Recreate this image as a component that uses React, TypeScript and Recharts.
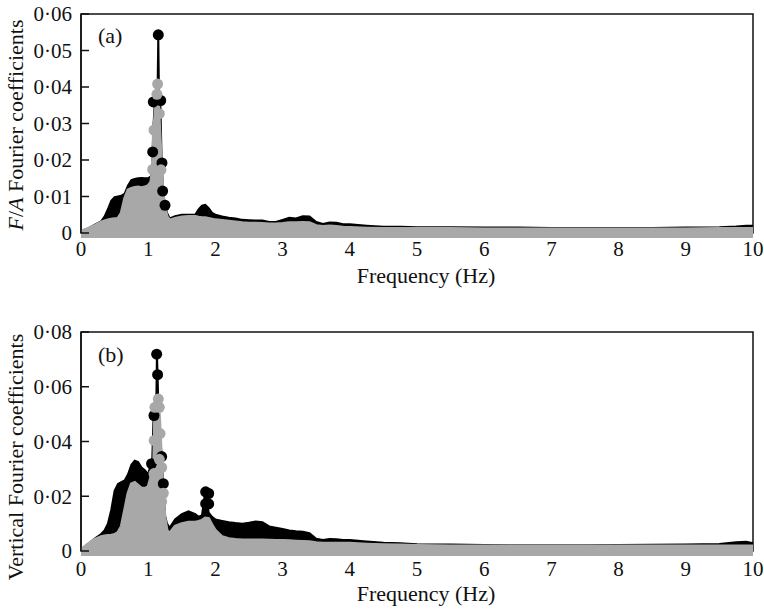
import React from 'react'
import { ComposedChart, Area, Scatter, XAxis, YAxis, ReferenceArea } from 'recharts'

const FONT = '"Liberation Serif", "Times New Roman", serif'
const INK = '#111'
const GREY = '#a8a8a8'

// frequency grid (Hz), denser around the 1.1 Hz peak
const freq = [
  0, 0.1, 0.2, 0.3, 0.35, 0.4, 0.45, 0.5, 0.55, 0.6,
  0.65, 0.7, 0.75, 0.8, 0.85, 0.9, 0.95, 1.0, 1.04, 1.06,
  1.08, 1.1, 1.12, 1.13, 1.14, 1.15, 1.16, 1.18, 1.2, 1.22,
  1.25, 1.28, 1.32, 1.4, 1.5, 1.6, 1.7, 1.75, 1.8, 1.85,
  1.9, 1.95, 2.0, 2.1, 2.2, 2.3, 2.4, 2.5, 2.6, 2.7,
  2.8, 2.9, 3.0, 3.1, 3.2, 3.3, 3.4, 3.5, 3.6, 3.7,
  3.8, 3.9, 4.0, 4.25, 4.5, 4.75, 5.0, 5.5, 6.0, 6.5,
  7.0, 7.5, 8.0, 8.5, 9.0, 9.5, 9.75, 9.9, 10.0,
]

// (a) F/A coefficients, upper envelope
const faBlack = [
  0.0005, 0.0012, 0.0022, 0.0032, 0.0045, 0.0065, 0.0088, 0.0098, 0.0100, 0.0102,
  0.0108, 0.0130, 0.0145, 0.0148, 0.0150, 0.0151, 0.0150, 0.0150, 0.0155, 0.0190,
  0.0300, 0.0360, 0.0380, 0.0390, 0.0400, 0.0543, 0.0390, 0.0360, 0.0200, 0.0115,
  0.0078, 0.0055, 0.0040, 0.0046, 0.0050, 0.0050, 0.0050, 0.0065, 0.0075, 0.0077,
  0.0068, 0.0055, 0.0050, 0.0045, 0.0042, 0.0040, 0.0036, 0.0035, 0.0034, 0.0034,
  0.0030, 0.0030, 0.0036, 0.0042, 0.0040, 0.0046, 0.0045, 0.0030, 0.0025, 0.0029,
  0.0028, 0.0024, 0.0024, 0.0020, 0.0017, 0.0017, 0.0016, 0.0016, 0.0015, 0.0015,
  0.0014, 0.0014, 0.0014, 0.0014, 0.0015, 0.0016, 0.0018, 0.0020, 0.0020,
]
const faGray = [
  0.0005, 0.0012, 0.0020, 0.0030, 0.0033, 0.0036, 0.0038, 0.0039, 0.0040, 0.0055,
  0.0095, 0.0118, 0.0122, 0.0125, 0.0126, 0.0124, 0.0126, 0.0130, 0.0140, 0.0170,
  0.0280, 0.0320, 0.0360, 0.0380, 0.0408, 0.0390, 0.0327, 0.0250, 0.0170, 0.0110,
  0.0070, 0.0045, 0.0035, 0.0040, 0.0044, 0.0045, 0.0045, 0.0043, 0.0042, 0.0042,
  0.0040, 0.0038, 0.0036, 0.0034, 0.0032, 0.0030, 0.0028, 0.0027, 0.0027, 0.0026,
  0.0025, 0.0025, 0.0026, 0.0028, 0.0028, 0.0029, 0.0028, 0.0020, 0.0018, 0.0019,
  0.0018, 0.0016, 0.0015, 0.0013, 0.0012, 0.0012, 0.0012, 0.0012, 0.0011, 0.0011,
  0.0011, 0.0011, 0.0011, 0.0011, 0.0011, 0.0012, 0.0012, 0.0012, 0.0012,
]

// (b) vertical coefficients, upper envelope
const vBlack = [
  0.0005, 0.0025, 0.0045, 0.0062, 0.0075, 0.0100, 0.0150, 0.0220, 0.0245, 0.0252,
  0.0258, 0.0280, 0.0315, 0.0330, 0.0325, 0.0305, 0.0295, 0.0280, 0.0320, 0.0330,
  0.0495, 0.0520, 0.0540, 0.0720, 0.0644, 0.0540, 0.0500, 0.0420, 0.0345, 0.0250,
  0.0130, 0.0100, 0.0085, 0.0115, 0.0135, 0.0145, 0.0135, 0.0125, 0.0130, 0.0220,
  0.0140, 0.0125, 0.0115, 0.0110, 0.0105, 0.0102, 0.0100, 0.0103, 0.0108, 0.0105,
  0.0090, 0.0085, 0.0080, 0.0075, 0.0072, 0.0070, 0.0065, 0.0045, 0.0040, 0.0044,
  0.0043, 0.0040, 0.0040, 0.0035, 0.0030, 0.0028, 0.0025, 0.0024, 0.0022, 0.0021,
  0.0021, 0.0021, 0.0022, 0.0023, 0.0024, 0.0026, 0.0032, 0.0034, 0.0028,
]
const vGray = [
  0.0005, 0.0025, 0.0042, 0.0052, 0.0055, 0.0057, 0.0058, 0.0060, 0.0068, 0.0090,
  0.0150, 0.0210, 0.0245, 0.0250, 0.0240, 0.0230, 0.0228, 0.0235, 0.0270, 0.0290,
  0.0283, 0.0525, 0.0540, 0.0550, 0.0555, 0.0555, 0.0525, 0.0430, 0.0305, 0.0211,
  0.0120, 0.0075, 0.0065, 0.0090, 0.0100, 0.0105, 0.0105, 0.0108, 0.0112, 0.0120,
  0.0118, 0.0095, 0.0075, 0.0052, 0.0045, 0.0042, 0.0040, 0.0040, 0.0040, 0.0040,
  0.0039, 0.0038, 0.0038, 0.0037, 0.0036, 0.0035, 0.0034, 0.0030, 0.0028, 0.0028,
  0.0028, 0.0028, 0.0028, 0.0025, 0.0023, 0.0022, 0.0020, 0.0018, 0.0018, 0.0018,
  0.0018, 0.0018, 0.0018, 0.0018, 0.0018, 0.0018, 0.0018, 0.0018, 0.0018,
]

// isolated points standing out around the peaks
const faBlackDots = [
  { f: 1.067, v: 0.0222 }, { f: 1.076, v: 0.0359 }, { f: 1.15, v: 0.0543 },
  { f: 1.186, v: 0.0363 }, { f: 1.205, v: 0.0192 }, { f: 1.215, v: 0.0115 }, { f: 1.25, v: 0.0076 },
]
const faGrayDots = [
  { f: 1.067, v: 0.0174 }, { f: 1.086, v: 0.0282 }, { f: 1.13, v: 0.038 },
  { f: 1.14, v: 0.0408 }, { f: 1.165, v: 0.0327 }, { f: 1.19, v: 0.0173 },
]
const vBlackDots = [
  { f: 1.05, v: 0.0319 }, { f: 1.086, v: 0.0495 }, { f: 1.126, v: 0.0719 }, { f: 1.14, v: 0.0644 },
  { f: 1.2, v: 0.0345 }, { f: 1.225, v: 0.0246 }, { f: 1.855, v: 0.0216 }, { f: 1.9, v: 0.021 },
  { f: 1.855, v: 0.0173 }, { f: 1.9, v: 0.0172 },
]
const vGrayDots = [
  { f: 1.086, v: 0.0283 }, { f: 1.09, v: 0.0404 }, { f: 1.1, v: 0.0525 }, { f: 1.15, v: 0.0555 },
  { f: 1.165, v: 0.0525 }, { f: 1.176, v: 0.0429 }, { f: 1.165, v: 0.0335 }, { f: 1.2, v: 0.0305 },
  { f: 1.225, v: 0.0211 }, { f: 1.2, v: 0.018 },
]

const xTicks = [0, 1, 2, 3, 4, 5, 6, 7, 8, 9, 10]
const faTicks = [0, 0.01, 0.02, 0.03, 0.04, 0.05, 0.06]
const vTicks = [0, 0.02, 0.04, 0.06, 0.08]

const fmtY = (v: number) => (v === 0 ? '0' : v.toFixed(2).replace('.', '·'))

const tickStyle = { fill: INK, fontSize: 21, fontFamily: FONT }
const titleStyle = { fill: INK, fontSize: 22, fontFamily: FONT }

function dot(color: string) {
  return (p: any) => <circle cx={p.cx} cy={p.cy} r={5.5} fill={color} />
}

interface PanelProps {
  black: number[]
  gray: number[]
  blackDots: { f: number; v: number }[]
  grayDots: { f: number; v: number }[]
  yMax: number
  yTicks: number[]
  height: number
  top: number
  floor: number
  tickGap: number
  xTitleY: number
  yTitleY: number
  yTitle: React.ReactNode
}

function Panel(p: PanelProps) {
  const rows = freq.map((f, i) => ({ f, black: p.black[i], gray: p.gray[i] }))
  return (
    <ComposedChart
      width={764}
      height={p.height}
      data={rows}
      margin={{ top: p.top, right: 11, left: 0, bottom: 0 }}
    >
      <ReferenceArea x1={0} x2={10} y1={0} y2={p.yMax} fill="none" stroke={INK} strokeWidth={1.5} />
      <XAxis
        type="number"
        dataKey="f"
        domain={[0, 10]}
        ticks={xTicks}
        interval={0}
        height={p.height - p.top - 222 + 3}
        axisLine={false}
        tickLine={false}
        tickMargin={p.tickGap}
        tick={tickStyle}
        label={{
          content: () => (
            <text x={426} y={p.xTitleY} textAnchor="middle" {...titleStyle}>
              Frequency (Hz)
            </text>
          ),
        }}
      />
      <YAxis
        type="number"
        domain={[0, p.yMax]}
        ticks={p.yTicks}
        interval={0}
        width={81}
        tickSize={-8}
        tickMargin={17}
        tickFormatter={fmtY}
        stroke={INK}
        strokeWidth={1.5}
        tick={tickStyle}
        label={{
          content: () => (
            <text transform="rotate(-90)" x={-p.yTitleY} y={23} textAnchor="middle" {...titleStyle}>
              {p.yTitle}
            </text>
          ),
        }}
      />
      <Area
        type="linear"
        dataKey="black"
        stroke="#000"
        strokeWidth={2}
        fill="#000"
        fillOpacity={1}
        isAnimationActive={false}
      />
      <Scatter data={p.blackDots} dataKey="v" shape={dot('#000')} isAnimationActive={false} />
      <Area
        type="linear"
        dataKey="gray"
        baseValue={p.floor}
        stroke={GREY}
        strokeWidth={3}
        fill={GREY}
        fillOpacity={1}
        isAnimationActive={false}
      />
      <Scatter data={p.grayDots} dataKey="v" shape={dot(GREY)} isAnimationActive={false} />
    </ComposedChart>
  )
}

export default function App() {
  const letter: React.CSSProperties = {
    position: 'absolute',
    left: 98,
    fontFamily: FONT,
    fontSize: 22,
    lineHeight: '22px',
    color: INK,
  }
  return (
    <div style={{ position: 'absolute', left: 0, top: 0, width: 764, height: 612, background: '#fff' }}>
      <div style={{ position: 'absolute', left: 0, top: 0 }}>
        <Panel
          black={faBlack}
          gray={faGray}
          blackDots={faBlackDots}
          grayDots={faGrayDots}
          yMax={0.06}
          yTicks={faTicks}
          height={300}
          top={14}
          floor={-0.0014}
          tickGap={2}
          xTitleY={283}
          yTitleY={125}
          yTitle={
            <>
              <tspan fontStyle="italic">F</tspan>/<tspan fontStyle="italic">A</tspan> Fourier coefficients
            </>
          }
        />
      </div>
      <div style={{ position: 'absolute', left: 0, top: 300 }}>
        <Panel
          black={vBlack}
          gray={vGray}
          blackDots={vBlackDots}
          grayDots={vGrayDots}
          yMax={0.08}
          yTicks={vTicks}
          height={312}
          top={32}
          floor={-0.0018}
          tickGap={4}
          xTitleY={301}
          yTitleY={157}
          yTitle="Vertical Fourier coefficients"
        />
      </div>
      <div style={{ ...letter, top: 25 }}>(a)</div>
      <div style={{ ...letter, top: 344 }}>(b)</div>
    </div>
  )
}
